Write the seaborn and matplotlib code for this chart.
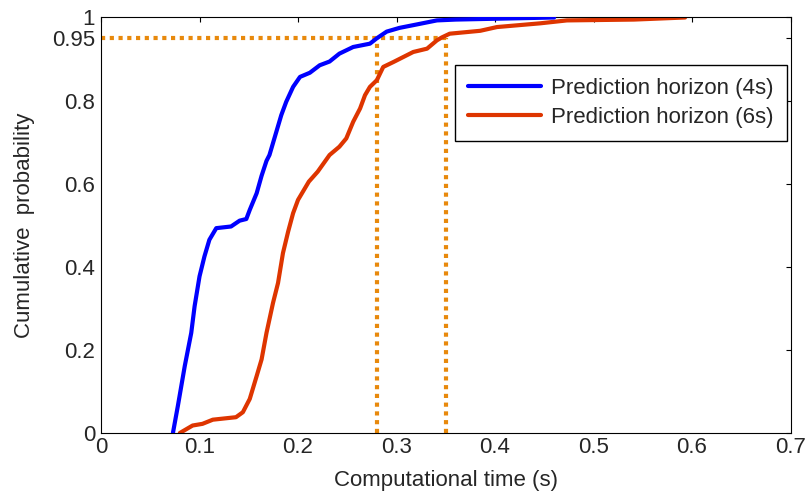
import matplotlib
matplotlib.use("Agg")
import matplotlib.pyplot as plt
import seaborn as sns
import pandas as pd

# Empirical CDF of computational time for the two prediction horizons
time_4s = [0.073, 0.078, 0.085, 0.0916, 0.095, 0.100, 0.105, 0.110, 0.117, 0.132,
           0.1407, 0.1475, 0.151, 0.158, 0.163, 0.168, 0.171, 0.178, 0.183, 0.188,
           0.195, 0.202, 0.212, 0.222, 0.232, 0.242, 0.256, 0.273, 0.280, 0.290,
           0.303, 0.320, 0.341, 0.36, 0.40, 0.46]
prob_4s = [0.0, 0.065, 0.161, 0.241, 0.305, 0.377, 0.425, 0.465, 0.493, 0.497,
           0.511, 0.515, 0.537, 0.577, 0.619, 0.655, 0.669, 0.725, 0.765, 0.797,
           0.833, 0.857, 0.867, 0.885, 0.894, 0.913, 0.929, 0.937, 0.950, 0.966,
           0.975, 0.983, 0.993, 0.995, 0.997, 1.0]

time_6s = [0.080, 0.093, 0.103, 0.1135, 0.137, 0.144, 0.151, 0.158, 0.163, 0.168,
           0.1746, 0.1797, 0.1847, 0.190, 0.195, 0.200, 0.205, 0.211, 0.220, 0.232,
           0.242, 0.249, 0.256, 0.263, 0.268, 0.273, 0.280, 0.2865, 0.297, 0.307,
           0.317, 0.331, 0.341, 0.346, 0.354, 0.385, 0.402, 0.446, 0.473, 0.541, 0.593]
prob_6s = [0.0, 0.018, 0.022, 0.032, 0.038, 0.050, 0.082, 0.137, 0.177, 0.241,
           0.313, 0.361, 0.433, 0.485, 0.529, 0.561, 0.581, 0.605, 0.629, 0.669,
           0.689, 0.709, 0.749, 0.781, 0.813, 0.833, 0.849, 0.881, 0.893, 0.905,
           0.917, 0.925, 0.945, 0.952, 0.961, 0.968, 0.977, 0.986, 0.993, 0.995, 1.0]

series_labels = ["Prediction horizon (4s)", "Prediction horizon (6s)"]

# 95th percentile markers
p95_level = 0.95
p95_times = [0.28, 0.35]

x_ticks = [0, 0.1, 0.2, 0.3, 0.4, 0.5, 0.6, 0.7]
x_tick_labels = ["0", "0.1", "0.2", "0.3", "0.4", "0.5", "0.6", "0.7"]
y_ticks = [0, 0.2, 0.4, 0.6, 0.8, 0.95, 1]
y_tick_labels = ["0", "0.2", "0.4", "0.6", "0.8", "0.95", "1"]

sns.set_style("white")
plt.rcParams["font.family"] = ["Liberation Sans", "DejaVu Sans"]
plt.rcParams["font.size"] = 16

fig = plt.figure(figsize=(8.05, 4.97), dpi=100)
ax = fig.add_axes([0.1255, 0.1288, 0.982 - 0.1255, 0.9648 - 0.1288])

dot_color = "#E8890C"
dot_style = dict(color=dot_color, lw=3.0, linestyle=(0, (1, 1.1)),
                 dash_capstyle="butt", zorder=1)
ax.plot([0, max(p95_times)], [p95_level, p95_level], **dot_style)
for t in p95_times:
    ax.plot([t, t], [0, p95_level], **dot_style)

df4 = pd.DataFrame({"t": time_4s, "p": prob_4s})
df6 = pd.DataFrame({"t": time_6s, "p": prob_6s})
sns.lineplot(data=df4, x="t", y="p", sort=False, estimator=None, ax=ax,
             color="#0000FF", lw=3, label=series_labels[0], zorder=3)
sns.lineplot(data=df6, x="t", y="p", sort=False, estimator=None, ax=ax,
             color="#DE3500", lw=3, label=series_labels[1], zorder=2)

ax.set_xlim(0, 0.7)
ax.set_ylim(0, 1)
ax.set_xticks(x_ticks)
ax.set_xticklabels(x_tick_labels)
ax.set_yticks(y_ticks)
ax.set_yticklabels(y_tick_labels)
ax.tick_params(direction="in", top=True, right=True, length=3.6, width=0.8,
               labelsize=16, color="black")
ax.tick_params(axis="x", pad=3.2)
ax.tick_params(axis="y", pad=4.3)
for s in ax.spines.values():
    s.set_visible(True)
    s.set_color("black")
    s.set_linewidth(0.8)

ax.set_xlabel("Computational time (s)", fontsize=16, labelpad=8.5)
ax.set_ylabel("Cumulative  probability", fontsize=16, labelpad=12)

leg = ax.legend(loc="upper right", bbox_to_anchor=(0.995, 0.886),
                borderaxespad=0, fontsize=16, frameon=True, fancybox=False,
                framealpha=1, edgecolor="black", handlelength=3.3,
                handletextpad=0.45, labelspacing=0.35, borderpad=0.6)
leg.get_frame().set_linewidth(1.0)

fig.savefig("out.png", dpi=100)
